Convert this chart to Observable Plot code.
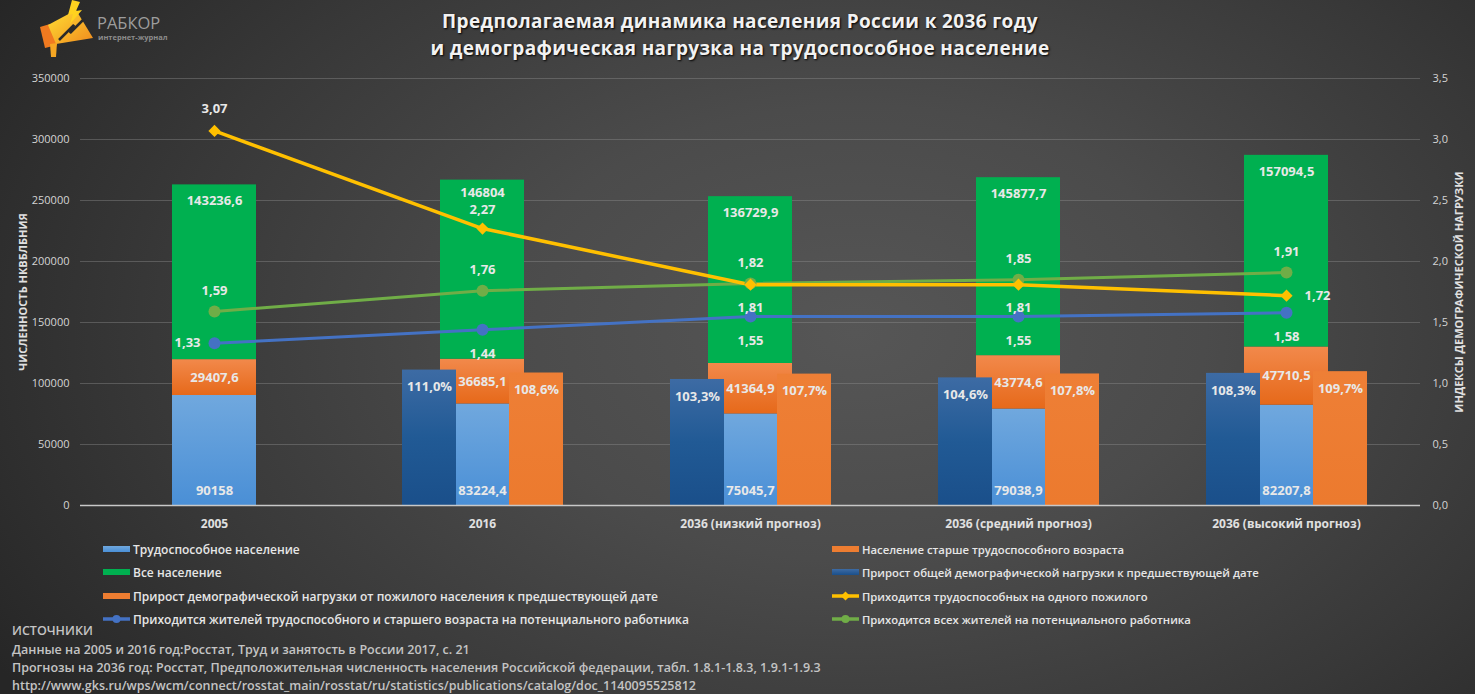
<!DOCTYPE html>
<html><head><meta charset="utf-8">
<script src="https://cdn.jsdelivr.net/npm/d3@7"></script>
<script src="https://cdn.jsdelivr.net/npm/@observablehq/plot@0.6"></script>
<style>
html,body{margin:0;padding:0;}
body{width:1475px;height:694px;overflow:hidden;font-family:'Open Sans',sans-serif;
 background:radial-gradient(ellipse 1000px 650px at 58% 48%, #565656 0%, #4b4b4b 35%, #383838 70%, #262626 100%);}
#wrap{position:relative;width:1475px;height:694px;}
.title{position:absolute;left:0;top:8px;width:1480px;text-align:center;color:#f2f2f2;font-weight:700;font-size:19px;line-height:27px;letter-spacing:0.35px;text-shadow:1px 1px 2px #000;}
#chart{position:absolute;left:0;top:68px;}
.axtitle{position:absolute;color:#e0e0e0;font-weight:700;font-size:11px;white-space:nowrap;transform:translate(-50%,-50%) rotate(-90deg);}
.leg{position:absolute;display:flex;align-items:center;color:#e6e6e6;font-weight:600;white-space:nowrap;height:14px;transform:translateY(-50%);}
.leg svg{margin-right:2px;}
.src{position:absolute;left:12px;color:#c4c4c4;font-size:12.5px;font-weight:600;white-space:nowrap;transform:translateY(-50%);}
</style></head><body>
<div id="wrap">
<svg style="position:absolute;left:0;top:0" width="200" height="66">
 <defs><linearGradient id="lg" x1="0" y1="0" x2="1" y2="1"><stop offset="0" stop-color="#ffe033"/><stop offset="1" stop-color="#f08a1e"/></linearGradient></defs>
 <polygon points="40,27 50,24 57,45 45,48" fill="#f07a20"/>
 <polygon points="48,25 76,10 93,38 56,44" fill="url(#lg)"/>
 <polygon points="50,44 57,43 56,57 51,57" fill="#f5a623"/>
 <polyline points="59,40 74,25 70,33 85,18" fill="none" stroke="#2a2a2a" stroke-width="2.5"/>
 <polygon points="72,0 80,2 76,11 82,10 70,24 73,14 68,15" fill="#ffd21f"/>
 <text x="97" y="29" fill="#9d9d9d" font-size="16.5" font-family="Open Sans">РАБКОР</text>
 <text x="98" y="40" fill="#8c8c8c" font-size="7.5" font-weight="700" font-family="Open Sans">интернет-журнал</text>
</svg>
<div class="title">Предполагаемая динамика населения России к 2036 году<br>и демографическая нагрузка на трудоспособное население</div>
<div id="chart"></div>
<div class="axtitle" style="left:22px;top:292px;">ЧИСЛЕННОСТЬ НКВБЛБНИЯ</div>
<div class="axtitle" style="left:1458px;top:292px;">ИНДЕКСЫ ДЕМОГРАФИЧЕСКОЙ НАГРУЗКИ</div>
<div id="legend"></div>
<div id="sources"></div>
</div>
<script>
// ---------- DATA ----------
const categories = ["2005", "2016", "2036 (низкий прогноз)", "2036 (средний прогноз)", "2036 (высокий прогноз)"];
const workingAge = [90158, 83224.4, 75045.7, 79038.9, 82207.8];       // Трудоспособное население
const elderly = [29407.6, 36685.1, 41364.9, 43774.6, 47710.5];        // Население старше трудоспособного возраста
const totalPop = [143236.6, 146804, 136729.9, 145877.7, 157094.5];    // Все население
const growthTotal = [null, 111.0, 103.3, 104.6, 108.3];               // Прирост общей демографической нагрузки, %
const growthElderly = [null, 108.6, 107.7, 107.8, 109.7];             // Прирост нагрузки от пожилого населения, %
const workersPerElder = [3.07, 2.27, 1.81, 1.81, 1.72];               // трудоспособных на одного пожилого
const allPerWorker = [1.59, 1.76, 1.82, 1.85, 1.91];                  // всех жителей на работника
const adultsPerWorker = [1.33, 1.44, 1.55, 1.55, 1.58];               // трудоспособного и старшего на работника
const leftTicks = [0, 50000, 100000, 150000, 200000, 250000, 300000, 350000];
const rightTicks = [0, 0.5, 1.0, 1.5, 2.0, 2.5, 3.0, 3.5];
const legendLeft = ["Трудоспособное население", "Все население", "Прирост демографической нагрузки от пожилого населения к предшествующей дате", "Приходится жителей трудоспособного и старшего возраста на потенциального работника"];
const legendRight = ["Население старше трудоспособного возраста", "Прирост общей демографической нагрузки к предшествующей дате", "Приходится трудоспособных на одного пожилого", "Приходится всех жителей на потенциального работника"];
const sources = ["ИСТОЧНИКИ", "Данные на 2005 и 2016 год:Росстат, Труд и занятость в России 2017, с. 21", "Прогнозы на 2036 год: Росстат, Предположительная численность населения Российской федерации, табл. 1.8.1-1.8.3, 1.9.1-1.9.3", "http://www.gks.ru/wps/wcm/connect/rosstat_main/rosstat/ru/statistics/publications/catalog/doc_1140095525812"];

// ---------- BUILD ----------
const K = 350000 / 3.5; // secondary axis unit -> primary axis
const rows = categories.map((c, i) => ({
  cat: c, w: workingAge[i], e: elderly[i], t: totalPop[i],
  gT: growthTotal[i], gE: growthElderly[i],
  a: workersPerElder[i], b: allPerWorker[i], c3: adultsPerWorker[i], i
}));
const growthRows = rows.filter(d => d.gT != null);
const fmt = v => String(v).replace(".", ",");
const fmt2 = v => v.toFixed(2).replace(".", ",");
const fmtPct = v => v.toFixed(1).replace(".", ",") + "%";
const lab = {fill: "#e8e8e8", fontSize: 13, fontWeight: "bold"};

const COL = {yellow: "#ffc000", green: "#70ad47", blue: "#4472c4"};

const plot = Plot.plot({
  width: 1475, height: 470,
  marginTop: 10, marginBottom: 33, marginLeft: 80, marginRight: 55,
  x: {type: "band", domain: categories, padding: 0, label: null},
  y: {domain: [0, 350000], label: null},
  style: {fontFamily: "'Open Sans', sans-serif", color: "#d4d4d4", background: "transparent", overflow: "visible"},
  marks: [
    Plot.gridY(leftTicks.slice(1), {stroke: "#909090", strokeOpacity: 0.4, strokeWidth: 1}),
    Plot.axisY({ticks: leftTicks, tickSize: 0, tickPadding: 11, fontSize: 11, label: null, tickFormat: d => String(d)}),
    Plot.axisY({anchor: "right", ticks: rightTicks.map(v => v * K), tickSize: 0, tickPadding: 12, fontSize: 11, label: null,
      tickFormat: d => (d / K).toFixed(1).replace(".", ",")}),
    Plot.axisX({tickSize: 0, tickPadding: 14, fontSize: 12, fontWeight: "bold", label: null, fill: "#e0e0e0"}),
    // stacked bars
    Plot.barY(rows, {x: "cat", y1: 0, y2: "w", fill: "url(#gLight)", insetLeft: 92, insetRight: 92}),
    Plot.barY(rows, {x: "cat", y1: "w", y2: d => d.w + d.e, fill: "url(#gOrange)", insetLeft: 92, insetRight: 92}),
    Plot.barY(rows, {x: "cat", y1: d => d.w + d.e, y2: d => d.w + d.e + d.t, fill: "#00b050", insetLeft: 92, insetRight: 92}),
    // growth bars (secondary axis)
    Plot.barY(growthRows, {x: "cat", y1: 0, y2: d => d.gT / 100 * K, fill: "url(#gDark)", insetLeft: 54, insetRight: 160}),
    Plot.barY(growthRows, {x: "cat", y1: 0, y2: d => d.gE / 100 * K, fill: "url(#gOrange2)", insetLeft: 161, insetRight: 53}),
    Plot.ruleY([0], {stroke: "#c8c8c8", strokeWidth: 1.3}),
    // stacked labels
    Plot.text(rows, {x: "cat", y: 0, text: d => fmt(d.w), dy: -15, ...lab}),
    Plot.text(rows, {x: "cat", y: d => d.w + d.e / 2, text: d => fmt(d.e), ...lab}),
    Plot.text(rows, {filter: d => d.i !== 1, x: "cat", y: d => d.w + d.e + d.t, text: d => fmt(d.t), dy: 16, ...lab}),
    Plot.text(rows, {filter: d => d.i === 1, x: "cat", y: d => d.w + d.e + d.t, text: d => fmt(d.t), dy: 13, ...lab}),
    Plot.text(growthRows, {x: "cat", y: d => d.gT / 100 * K, text: d => fmtPct(d.gT), dx: -53, dy: 17, ...lab}),
    Plot.text(growthRows, {x: "cat", y: d => d.gE / 100 * K, text: d => fmtPct(d.gE), dx: 54, dy: 17, ...lab}),
    // lines
    Plot.line(rows, {x: "cat", y: d => d.c3 * K, stroke: COL.blue, strokeWidth: 3}),
    Plot.line(rows, {x: "cat", y: d => d.b * K, stroke: COL.green, strokeWidth: 3}),
    Plot.line(rows, {x: "cat", y: d => d.a * K, stroke: COL.yellow, strokeWidth: 3.5}),
    Plot.dot(rows, {x: "cat", y: d => d.c3 * K, r: 6, fill: COL.blue}),
    Plot.dot(rows, {x: "cat", y: d => d.b * K, r: 6, fill: COL.green}),
    Plot.dot(rows, {x: "cat", y: d => d.a * K, r: 5.5, symbol: "diamond2", fill: COL.yellow, stroke: "none"}),
    // line labels
    Plot.text(rows, {x: "cat", y: d => d.b * K, text: d => fmt2(d.b), dy: -21, ...lab}),
    Plot.text(rows, {filter: d => d.i === 0, x: "cat", y: d => d.c3 * K, text: d => fmt2(d.c3), dx: -27, ...lab}),
    Plot.text(rows, {filter: d => d.i > 0, x: "cat", y: d => d.c3 * K, text: d => fmt2(d.c3), dy: 24, ...lab}),
    Plot.text(rows, {filter: d => d.i === 0, x: "cat", y: d => d.a * K, text: d => fmt2(d.a), dy: -22, ...lab}),
    Plot.text(rows, {filter: d => d.i === 1, x: "cat", y: d => d.a * K, text: d => fmt2(d.a), dy: -19, ...lab}),
    Plot.text(rows, {filter: d => d.i === 2 || d.i === 3, x: "cat", y: d => d.a * K, text: d => fmt2(d.a), dy: 23, ...lab}),
    Plot.text(rows, {filter: d => d.i === 4, x: "cat", y: d => d.a * K, text: d => fmt2(d.a), dx: 31, ...lab})
  ]
});

d3.select(plot).insert("defs", ":first-child").html(`
  <linearGradient id="gLight" x1="0" y1="0" x2="0" y2="1"><stop offset="0" stop-color="#70a8de"/><stop offset="1" stop-color="#4a8fd6"/></linearGradient>
  <linearGradient id="gOrange" x1="0" y1="0" x2="0" y2="1"><stop offset="0" stop-color="#f2894b"/><stop offset="1" stop-color="#e6691a"/></linearGradient>
  <linearGradient id="gOrange2" x1="0" y1="0" x2="0" y2="1"><stop offset="0" stop-color="#ee7f36"/><stop offset="1" stop-color="#ec7a2e"/></linearGradient>
  <linearGradient id="gDark" x1="0" y1="0" x2="0" y2="1"><stop offset="0" stop-color="#3d6ba4"/><stop offset="0.5" stop-color="#215a95"/><stop offset="1" stop-color="#1a4f8a"/></linearGradient>
`);
document.getElementById("chart").appendChild(plot);

// ---------- LEGEND ----------
const swRect = (fill) => `<svg width="28" height="8"><rect x="0" y="1" width="27" height="6" fill="${fill}"/></svg>`;
const swLine = (col, sym) => `<svg width="28" height="12"><line x1="0" y1="6" x2="27" y2="6" stroke="${col}" stroke-width="3.5"/>` +
  (sym === "d" ? `<polygon points="13.5,1.5 18,6 13.5,10.5 9,6" fill="${col}"/>` : `<circle cx="13.5" cy="6" r="4" fill="${col}"/>`) + `</svg>`;
const legDefs = `<svg width="0" height="0" style="position:absolute"><defs>
 <linearGradient id="lgLight" x1="0" y1="0" x2="0" y2="1"><stop offset="0" stop-color="#70a8de"/><stop offset="1" stop-color="#4a8fd6"/></linearGradient>
 <linearGradient id="lgDark" x1="0" y1="0" x2="0" y2="1"><stop offset="0" stop-color="#3d6ba4"/><stop offset="1" stop-color="#1a4f8a"/></linearGradient></defs></svg>`;
const leftSw = [swRect("url(#lgLight)"), swRect("#00b050"), swRect("#ed7d31"), swLine(COL.blue, "c")];
const rightSw = [swRect("#ed7d31"), swRect("url(#lgDark)"), swLine(COL.yellow, "d"), swLine(COL.green, "c")];
const rowsY = [549, 572, 596, 619];
let html = legDefs;
legendLeft.forEach((t, i) => { html += `<div class="leg" style="left:103px;top:${rowsY[i]}px;font-size:12px">${leftSw[i]}<span>${t}</span></div>`; });
legendRight.forEach((t, i) => { html += `<div class="leg" style="left:832px;top:${rowsY[i]}px;font-size:11.3px">${rightSw[i]}<span>${t}</span></div>`; });
document.getElementById("legend").innerHTML = html;

const srcY = [630, 649, 667, 685];
document.getElementById("sources").innerHTML = sources.map((t, i) => `<div class="src" style="top:${srcY[i]}px">${t}</div>`).join("");
</script>
</body></html>
